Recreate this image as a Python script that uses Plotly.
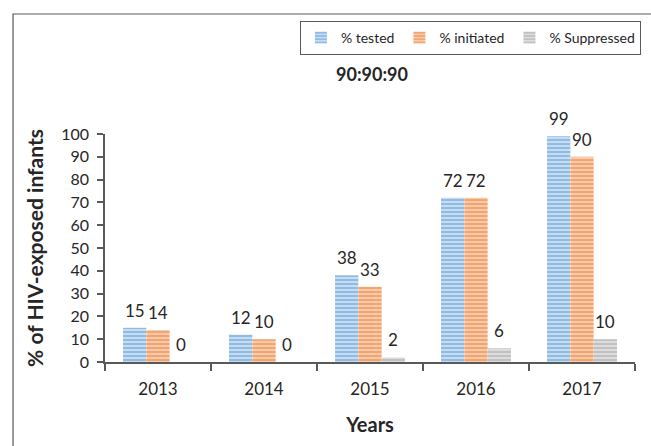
import plotly.graph_objects as go

years = ["2013", "2014", "2015", "2016", "2017"]
tested = [15, 12, 38, 72, 99]
initiated = [14, 10, 33, 72, 90]
suppressed = [0, 0, 2, 6, 10]
series_names = ["% tested", "% initiated", "% Suppressed"]

FONT = "Lato"
TXT = "#262626"
AX = "#595959"
W, H = 651, 446
L, R, T, B = 105, 10, 134, 84
pw = W - L - R
ph = H - T - B
BARGAP = 0.34

styles = [
    ("#5B9BD5", "#C5DCF1"),
    ("#ED7D31", "#F9CBAD"),
    ("#A5A5A5", "#DCDCDC"),
]
series_vals = [tested, initiated, suppressed]

fig = go.Figure()
for name, vals, (fg, bg) in zip(series_names, series_vals, styles):
    fig.add_trace(go.Bar(
        x=years, y=vals, name=name,
        marker=dict(color=bg, line=dict(width=0),
                    pattern=dict(shape="-", fgcolor=fg, bgcolor=bg, size=4, solidity=0.5)),
    ))

# data labels as annotations (offset to each bar in the group)
nb = len(series_vals)
annotations = []
for i, vals in enumerate(series_vals):
    for j, v in enumerate(vals):
        annotations.append(dict(
            x=j + (i - (nb - 1) / 2) * (1 - BARGAP) / nb, y=v,
            xref="x", yref="y", text=str(v), showarrow=False,
            xanchor="center", yanchor="bottom", yshift=5,
            font=dict(family=FONT, size=17, color=TXT)))

fig.update_layout(
    width=W, height=H,
    margin=dict(l=L, r=R, t=T, b=B),
    paper_bgcolor="white", plot_bgcolor="white",
    barmode="group", bargap=BARGAP, bargroupgap=0,
    font=dict(family=FONT, color=TXT),
    title=dict(text="<b>90:90:90</b>", x=372 / W, xanchor="center",
               y=1 - 75 / H, yanchor="middle", yref="container",
               font=dict(family=FONT, size=18, color=TXT)),
    legend=dict(orientation="h", x=(647 - L) / pw, xanchor="right",
                y=(H - B - 21) / ph, yanchor="top",
                bordercolor=AX, borderwidth=1,
                font=dict(family=FONT, size=14, color=TXT),
                itemwidth=30, tracegroupgap=0),
    xaxis=dict(type="category", categoryorder="array", categoryarray=years,
               range=[-0.5, len(years) - 0.5],
               showline=True, linecolor=AX, linewidth=1.5,
               ticks="outside", tickson="boundaries", ticklen=7, tickcolor=AX,
               tickwidth=1.5, ticklabelstandoff=11,
               tickfont=dict(family=FONT, size=17, color=TXT),
               title=dict(text="<b>Years</b>", font=dict(family=FONT, size=20, color=TXT),
                          standoff=20),
               showgrid=False),
    yaxis=dict(range=[0, 100], dtick=10, showline=True, linecolor=AX, linewidth=1.5,
               ticks="outside", ticklen=6, tickcolor=AX, tickwidth=1.5,
               ticklabelstandoff=5,
               tickfont=dict(family=FONT, size=16, color=TXT),
               title=dict(text="<b>% of HIV-exposed infants</b>",
                          font=dict(family=FONT, size=21, color=TXT), standoff=12),
               showgrid=False, zeroline=False),
    annotations=annotations,
    shapes=[dict(type="rect", xref="paper", yref="paper",
                 x0=(12 - L) / pw, x1=(W + 40 - L) / pw,
                 y0=(H - B - (H + 40)) / ph, y1=(H - B - 14) / ph,
                 line=dict(color=AX, width=1.2), fillcolor="rgba(0,0,0,0)",
                 layer="below")],
)

fig.write_html("out.html")
